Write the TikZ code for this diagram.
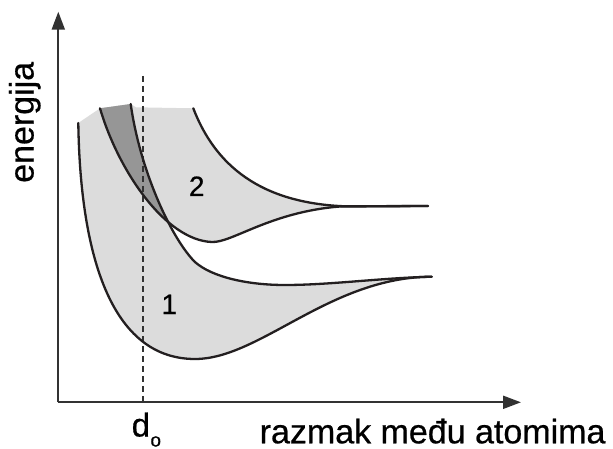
\documentclass[tikz,border=0pt]{standalone}
\usepackage{fontspec}
\setmainfont{Liberation Sans}
\newfontfamily\labelsans{Liberation Sans}[FakeBold=0.6]
\usetikzlibrary{arrows.meta}
\definecolor{lightband}{RGB}{220,220,220}
\definecolor{darkband}{RGB}{150,150,150}
\definecolor{curveink}{RGB}{35,31,32}
\definecolor{axisgray}{RGB}{50,50,50}
\begin{document}
\begin{tikzpicture}[x=1pt,y=-1pt,
  curve/.style={draw=curveink,line width=2.3pt,line cap=round,line join=round},
  axis/.style={draw=axisgray,line width=2pt,-{Triangle[length=18pt,width=13pt]}},
  guide/.style={draw=axisgray,line width=1.4pt,dash pattern=on 6pt off 4pt},
  axlabel/.style={inner sep=0pt,font=\labelsans\fontsize{34}{40}\selectfont},
  bandlabel/.style={inner sep=0pt,font=\labelsans\fontsize{28}{32}\selectfont,anchor=base},
  bandone/.style={insert path={(78.3,123) .. controls (80,240) and (105,359) .. (195,359)
     .. controls (260,359) and (330,277) .. (431.7,276.7)
     .. controls (380,278) and (330,285) .. (285,285)
     .. controls (240,285) and (206,274) .. (193,260)
     .. controls (170,235) and (140,170) .. (130.7,104) -- (100,108.3) -- cycle}},
  bandtwo/.style={insert path={(100,108.3) .. controls (118,170) and (165,240) .. (211.7,242)
     .. controls (232,243) and (270,212) .. (340,206.5) -- (428,206) -- (345,206.3)
     .. controls (260,203) and (215,165) .. (193.3,108.3) -- (136,107.3) -- (130.7,104) -- cycle}}]
\useasboundingbox (0,0) rectangle (613,449);
% bands
\fill[lightband,bandone];
\fill[lightband,bandtwo];
\begin{scope}
\clip[bandone];
\fill[darkband,bandtwo];
\end{scope}
% dashed guide at d_o
\coordinate (dtop) at (143,76);
\coordinate (dbot) at (143,402.3);
\draw[guide] (dtop) -- (dbot);
% curves
\draw[curve] (78.3,123) .. controls (80,240) and (105,359) .. (195,359)
     .. controls (260,359) and (330,277) .. (431.7,276.7);
\draw[curve] (130.7,104) .. controls (140,170) and (170,235) .. (193,260)
     .. controls (206,274) and (240,285) .. (285,285)
     .. controls (330,285) and (380,278) .. (431.7,276.7);
\draw[curve] (100,108.3) .. controls (118,170) and (165,240) .. (211.7,242)
     .. controls (232,243) and (270,212) .. (340,206.5) -- (428,206);
\draw[curve] (193.3,108.3) .. controls (215,165) and (260,203) .. (345,206.3) -- (428,206);
% axes
\coordinate (origin) at (58.3,402.3);
\coordinate (ytip) at (58.3,11.7);
\coordinate (xtip) at (521,402.3);
\draw[axis] (origin) -- (ytip);
\draw[axis] (origin) -- (xtip);
% labels
\node[axlabel,rotate=90,anchor=base west] (ylab) at (33.5,183) {energija};
\node[axlabel,anchor=base west] (xlab) at (259.5,443.3) {razmak među atomima};
\node[inner sep=0pt,anchor=base west,font=\labelsans\fontsize{33}{38}\selectfont] (dlab) at (131.5,436.5) {d};
\node[inner sep=0pt,anchor=base west,font=\labelsans\fontsize{19}{22}\selectfont] (osub) at (dlab.base east) [yshift=-10pt] {o};
\node[bandlabel] (one) at (169.3,314) {1};
\node[bandlabel] (two) at (196.7,196) {2};
\end{tikzpicture}
\end{document}
